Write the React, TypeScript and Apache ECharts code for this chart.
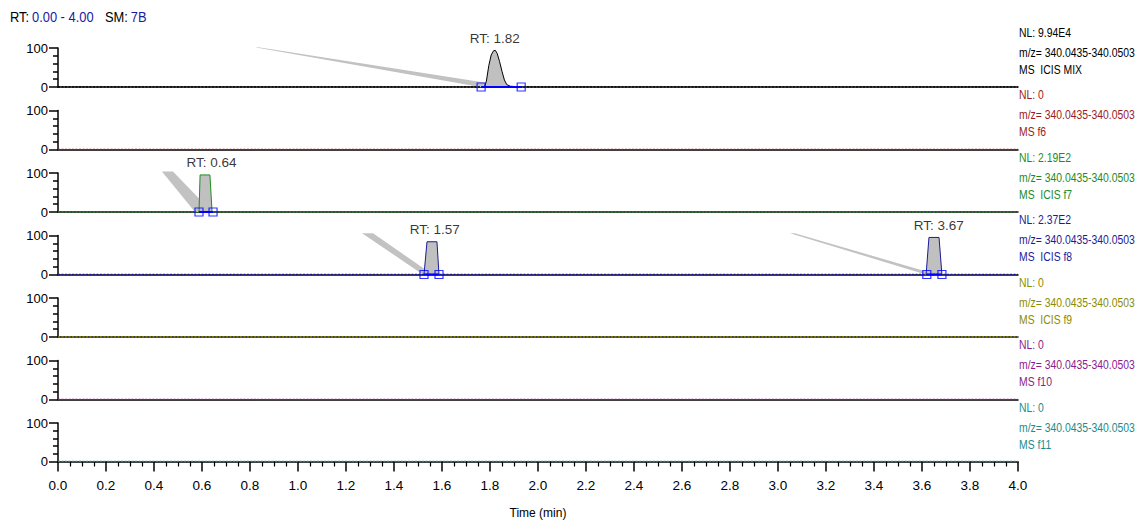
import React, { useEffect, useRef } from "react";
import * as echarts from "echarts";

// ---------- data ----------
const timeTicks = [0, 4]; // time range (min)
const panelColors = ["#000000", "#9b1c1c", "#1e8c1e", "#1c1c96", "#8c8c00", "#8c1c8c", "#1c8c8c"];
const nlLabels = ["NL: 9.94E4", "NL: 0", "NL: 2.19E2", "NL: 2.37E2", "NL: 0", "NL: 0", "NL: 0"];
const mzLabel = "m/z= 340.0435-340.0503";
const filterLabels = ["MS  ICIS MIX", "MS f6", "MS  ICIS f7", "MS  ICIS f8", "MS  ICIS f9", "MS f10", "MS f11"];
const headerRT = "0.00 - 4.00";
const headerSM = "7B";

// peaks (time, relative abundance)
const peakMix = [
  [1.765, 0], [1.778, 2], [1.785, 15], [1.795, 55], [1.805, 82], [1.815, 93], [1.822, 94],
  [1.83, 86], [1.84, 65], [1.85, 40], [1.86, 18], [1.87, 6], [1.885, 2], [1.93, 0],
];
const peakF7 = [[0.5875, 0], [0.592, 95], [0.633, 95], [0.642, 0]];
const peakF8a = [[1.525, 0], [1.5375, 84], [1.579, 84], [1.5875, 0]];
const peakF8b = [[3.617, 0], [3.629, 95], [3.671, 95], [3.683, 0]];

// integration boundaries
const boundsMix = [[1.763, 0], [1.93, 0]];
const boundsF7 = [[0.5875, 0], [0.646, 0]];
const boundsF8a = [[1.525, 0], [1.5875, 0]];
const boundsF8b = [[3.62, 0], [3.683, 0]];

// gray shading bands
const bandMix = [[0.82, 102], [0.835, 102], [1.9, 0], [1.76, 0]];
const bandF7 = [[0.433, 104], [0.479, 104], [0.642, 0], [0.571, 0]];
const bandF8a = [[1.267, 106], [1.3125, 106], [1.56, 0], [1.52, 0]];
const bandF8b = [[3.05, 106], [3.07, 106], [3.66, 0], [3.615, 0]];

// RT labels: [rt, apex]
const rtMix = [1.82, 94];
const rtF7 = [0.64, 95];
const rtF8a = [1.57, 84];
const rtF8b = [3.67, 95];

const panelPeaks = [[peakMix], [], [peakF7], [peakF8a, peakF8b], [], [], []];
const panelBounds = [[boundsMix], [], [boundsF7], [boundsF8a, boundsF8b], [], [], []];
const panelBands = [[bandMix], [], [bandF7], [bandF8a, bandF8b], [], [], []];
const panelRT = [[rtMix], [], [rtF7], [rtF8a, rtF8b], [], [], []];

const FONT = "'Liberation Sans', Arial, sans-serif";

export default function App() {
  const ref = useRef<HTMLDivElement>(null);
  useEffect(() => {
    if (!ref.current) return;
    const chart = echarts.init(ref.current, null, { renderer: "svg" });
    const TOP0 = 48, STEP = 62.5, H = 39, LEFT = 58, RIGHT = 127;
    const n = panelColors.length;
    const grids: any[] = [], xAxes: any[] = [], yAxes: any[] = [], series: any[] = [], graphics: any[] = [];
    for (let i = 0; i < n; i++) {
      const top = TOP0 + STEP * i;
      const col = panelColors[i];
      const last = i === n - 1;
      grids.push({ left: LEFT, right: RIGHT, top, height: H });
      xAxes.push({
        gridIndex: i, type: "value", min: timeTicks[0], max: timeTicks[1], interval: 0.2, offset: 1.5,
        axisLine: { show: true, lineStyle: { color: "#000", width: 1.5 } },
        axisTick: { show: last, length: 10, lineStyle: { color: "#000", width: 1.5 } },
        minorTick: { show: last, splitNumber: 4, length: 5, lineStyle: { color: "#000", width: 1.2 } },
        axisLabel: { show: last, fontSize: 13.5, color: "#000", fontFamily: FONT, margin: 15, formatter: (v: number) => v.toFixed(1) },
        splitLine: { show: false },
        name: last ? "Time (min)" : "",
        nameLocation: "middle", nameGap: 44,
        nameTextStyle: { fontSize: 12, color: "#000", fontFamily: FONT },
      });
      yAxes.push({
        gridIndex: i, type: "value", min: 0, max: 100, interval: 100,
        axisLine: { show: true, lineStyle: { color: "#000", width: 1.5 } },
        axisTick: { show: true, length: 9, lineStyle: { color: "#000", width: 1.5 } },
        minorTick: { show: true, splitNumber: 5, length: 5, lineStyle: { color: "#000", width: 1.5 } },
        axisLabel: { fontSize: 13, color: "#000", fontFamily: FONT, margin: 10 },
        splitLine: { show: false },
      });
      // bands
      panelBands[i].forEach((poly) => {
        series.push({
          type: "custom", xAxisIndex: i, yAxisIndex: i, clip: false, silent: true, z: 1,
          data: [poly[0]],
          renderItem: (_p: any, api: any) => ({
            type: "polygon",
            shape: { points: poly.map((pt) => api.coord(pt)) },
            style: { fill: "#c2c2c2" },
          }),
        });
      });
      // trace baseline (dotted)
      series.push({
        type: "line", xAxisIndex: i, yAxisIndex: i, symbol: "none", z: 3,
        data: [[timeTicks[0], 0], [timeTicks[1], 0]],
        lineStyle: { color: col, width: 1.5, type: [2, 1.5] },
      });
      // peaks
      panelPeaks[i].forEach((pk) => {
        series.push({
          type: "line", xAxisIndex: i, yAxisIndex: i, symbol: "none", z: 2,
          data: pk,
          lineStyle: { color: col, width: 1 },
          areaStyle: { color: "#c0c0c0", opacity: 1 },
        });
      });
      // boundaries
      panelBounds[i].forEach((b) => {
        series.push({
          type: "line", xAxisIndex: i, yAxisIndex: i, symbol: "none", z: 4,
          data: b, lineStyle: { color: "#0000ff", width: 2 },
        });
        series.push({
          type: "scatter", xAxisIndex: i, yAxisIndex: i, symbol: "rect", symbolSize: 8, z: 5,
          data: b,
          itemStyle: { color: "rgba(255,255,255,0)", borderColor: "#0000ff", borderWidth: 1.2 },
        });
      });
      // RT labels
      if (panelRT[i].length) {
        series.push({
          type: "scatter", xAxisIndex: i, yAxisIndex: i, symbolSize: 0, z: 6,
          data: panelRT[i],
          label: {
            show: true, position: "top", distance: 5, color: "#000", fontSize: 13.5, fontFamily: FONT,
            formatter: (p: any) => "RT: " + p.value[0].toFixed(2),
          },
        });
      }
      // right labels
      const lines = [
        { t: nlLabels[i], y: top - 16 },
        { t: mzLabel, y: top + 4 },
        { t: filterLabels[i], y: top + 21 },
      ];
      lines.forEach((l) => {
        graphics.push({
          type: "text", x: 1019, y: l.y, scaleX: 0.8,
          style: { text: l.t, fill: col, fontSize: 13, fontFamily: FONT, verticalAlign: "middle" },
        });
      });
    }
    const rich = {
      a: { fill: "#000", fontSize: 15, fontFamily: FONT },
      b: { fill: "#1c1ca0", fontSize: 15, fontFamily: FONT },
    };
    graphics.push({
      type: "text", x: 10, y: 17, scaleX: 0.86,
      style: { text: "{a|RT:} {b|" + headerRT + "}", verticalAlign: "middle", rich },
    });
    graphics.push({
      type: "text", x: 105, y: 17, scaleX: 0.86,
      style: { text: "{a|SM:} {b|" + headerSM + "}", verticalAlign: "middle", rich },
    });
    chart.setOption({
      animation: false,
      backgroundColor: "#fff",
      grid: grids, xAxis: xAxes, yAxis: yAxes, series, graphic: graphics,
    });
    return () => chart.dispose();
  }, []);
  return <div ref={ref} style={{ position: "fixed", left: 0, top: 0, width: 1145, height: 520 }} />;
}
